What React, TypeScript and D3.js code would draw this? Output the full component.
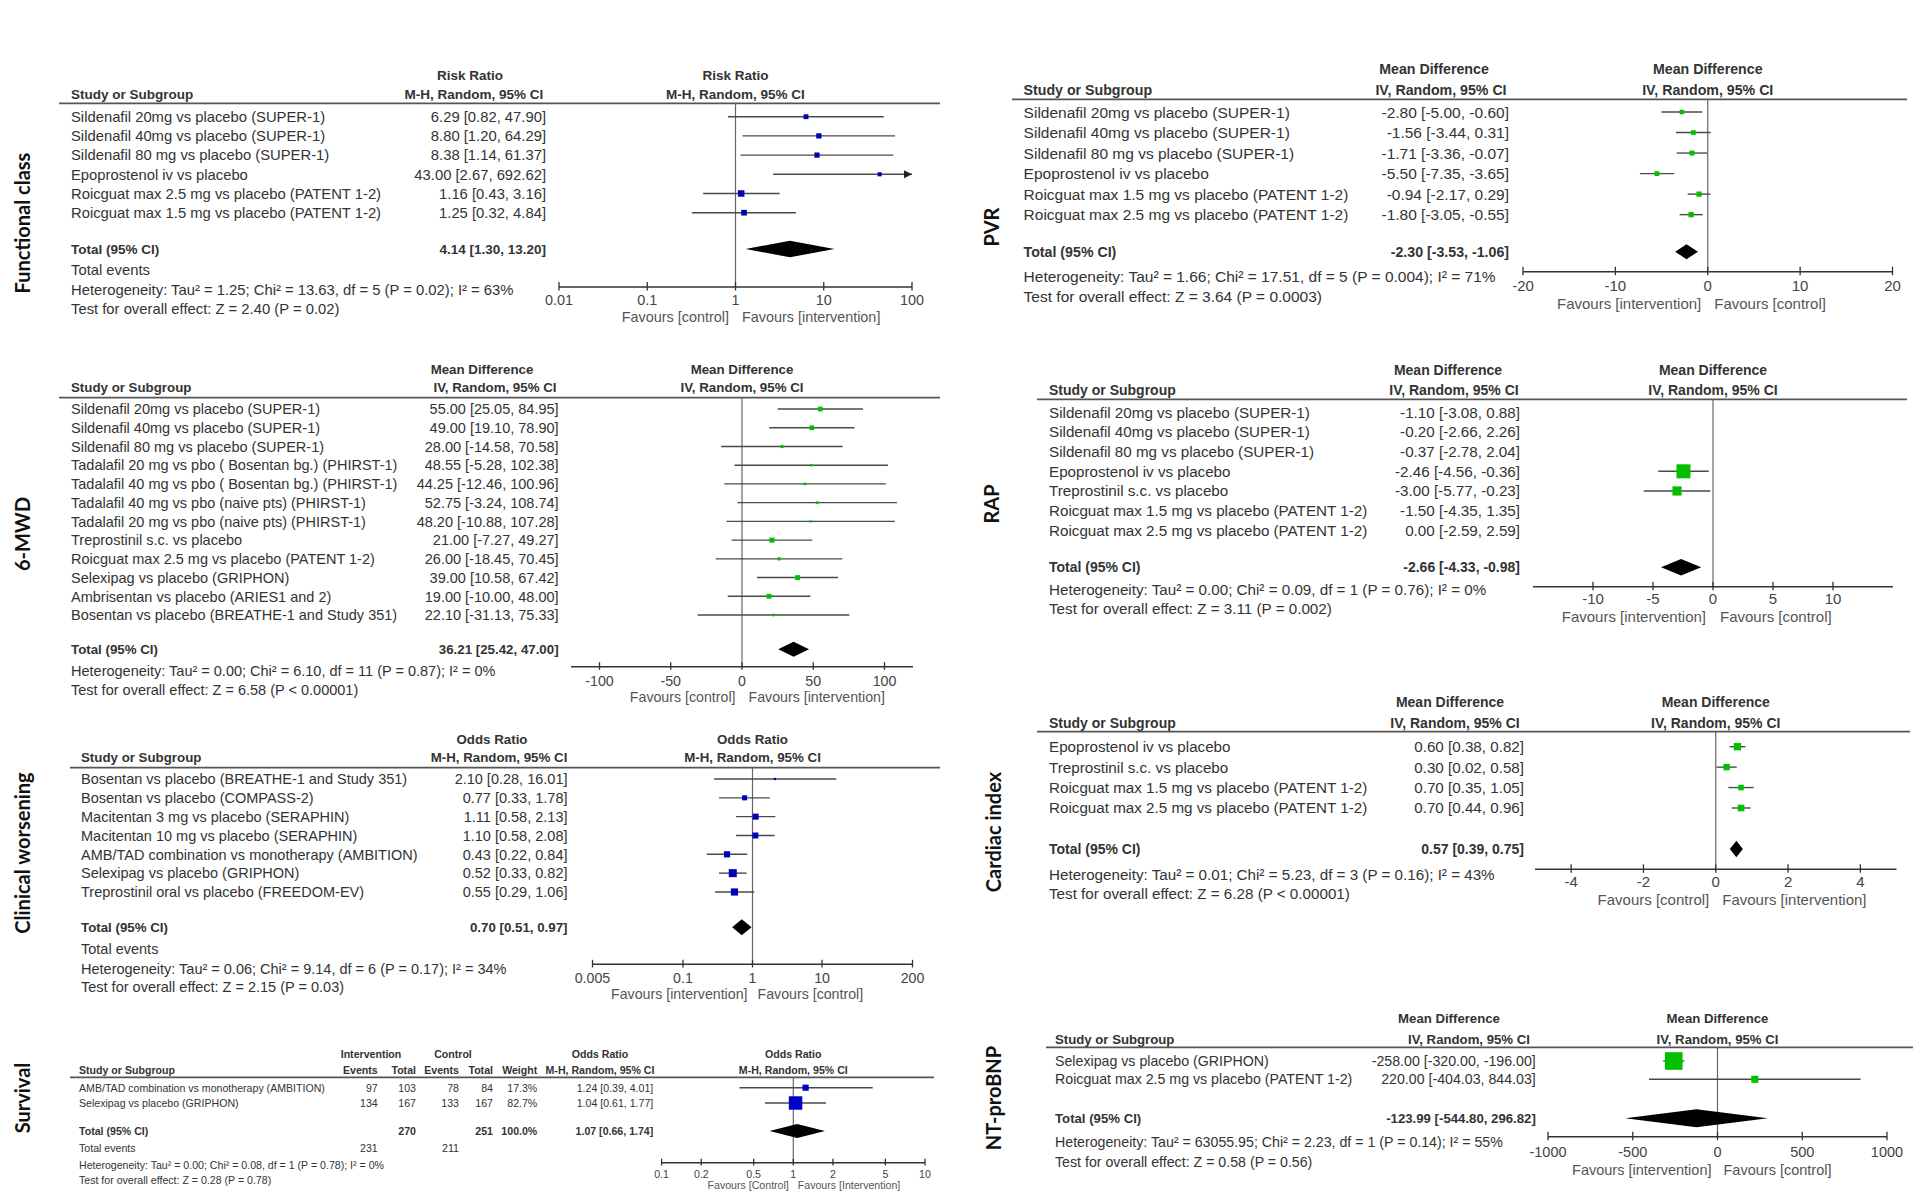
import * as d3 from 'd3';

const FONT = '"Liberation Sans", Arial, sans-serif';
const LABEL_FONT = 'Lato, "Open Sans", sans-serif';
const INK = '#333';
const SOFT = '#555';
const GREEN = '#00c000';
const NAVY = '#0000b4';

// ---- Functional class (risk ratio)
const fcStudies = [
  'Sildenafil 20mg vs placebo (SUPER-1)',
  'Sildenafil 40mg vs placebo (SUPER-1)',
  'Sildenafil 80 mg vs placebo (SUPER-1)',
  'Epoprostenol iv vs placebo',
  'Roicguat max 2.5 mg vs placebo (PATENT 1-2)',
  'Roicguat max 1.5 mg vs placebo (PATENT 1-2)',
];
const fcEst = [6.29, 8.8, 8.38, 43.0, 1.16, 1.25];
const fcLo = [0.82, 1.2, 1.14, 2.67, 0.43, 0.32];
const fcHi = [47.9, 64.29, 61.37, 692.62, 3.16, 4.84];
const fcWeights = [14, 16, 16, 10, 25, 19];
const fcTotal = [4.14, 1.3, 13.2];
const fcTicks = [0.01, 0.1, 1, 10, 100];
const fcTickLabels = ['0.01', '0.1', '1', '10', '100'];

// ---- 6-MWD (mean difference)
const mwdStudies = [
  'Sildenafil 20mg vs placebo (SUPER-1)',
  'Sildenafil 40mg vs placebo (SUPER-1)',
  'Sildenafil 80 mg vs placebo (SUPER-1)',
  'Tadalafil 20 mg vs pbo ( Bosentan bg.) (PHIRST-1)',
  'Tadalafil 40 mg vs pbo ( Bosentan bg.) (PHIRST-1)',
  'Tadalafil 40 mg vs pbo (naive pts) (PHIRST-1)',
  'Tadalafil 20 mg vs pbo (naive pts) (PHIRST-1)',
  'Treprostinil s.c. vs placebo',
  'Roicguat max 2.5 mg vs placebo (PATENT 1-2)',
  'Selexipag vs placebo (GRIPHON)',
  'Ambrisentan vs placebo (ARIES1 and 2)',
  'Bosentan vs placebo (BREATHE-1 and Study 351)',
];
const mwdEst = [55.0, 49.0, 28.0, 48.55, 44.25, 52.75, 48.2, 21.0, 26.0, 39.0, 19.0, 22.1];
const mwdLo = [25.05, 19.1, -14.58, -5.28, -12.46, -3.24, -10.88, -7.27, -18.45, 10.58, -10.0, -31.13];
const mwdHi = [84.95, 78.9, 70.58, 102.38, 100.96, 108.74, 107.28, 49.27, 70.45, 67.42, 48.0, 75.33];
const mwdWeights = [13, 13, 6, 4, 4, 4, 3, 15, 6, 14, 14, 4];
const mwdTotal = [36.21, 25.42, 47.0];
const mwdTicks = [-100, -50, 0, 50, 100];
const mwdTickLabels = ['-100', '-50', '0', '50', '100'];

// ---- Clinical worsening (odds ratio)
const cwStudies = [
  'Bosentan vs placebo (BREATHE-1 and Study 351)',
  'Bosentan vs placebo (COMPASS-2)',
  'Macitentan 3 mg vs placebo (SERAPHIN)',
  'Macitentan 10 mg vs placebo (SERAPHIN)',
  'AMB/TAD combination vs monotherapy (AMBITION)',
  'Selexipag vs placebo (GRIPHON)',
  'Treprostinil oral vs placebo (FREEDOM-EV)',
];
const cwEst = [2.1, 0.77, 1.11, 1.1, 0.43, 0.52, 0.55];
const cwLo = [0.28, 0.33, 0.58, 0.58, 0.22, 0.33, 0.29];
const cwHi = [16.01, 1.78, 2.13, 2.08, 0.84, 0.82, 1.06];
const cwWeights = [2, 10, 14, 14, 15, 25, 20];
const cwTotal = [0.7, 0.51, 0.97];
const cwTicks = [0.005, 0.1, 1, 10, 200];
const cwTickLabels = ['0.005', '0.1', '1', '10', '200'];

// ---- Survival (odds ratio)
const svStudies = ['AMB/TAD combination vs monotherapy (AMBITION)', 'Selexipag vs placebo (GRIPHON)'];
const svIntEvents = [97, 134];
const svIntTotal = [103, 167];
const svCtlEvents = [78, 133];
const svCtlTotal = [84, 167];
const svWeights = [17.3, 82.7];
const svEst = [1.24, 1.04];
const svLo = [0.39, 0.61];
const svHi = [4.01, 1.77];
const svTotal = [1.07, 0.66, 1.74];
const svTotals = ['270', '251', '100.0%'];
const svTotalEvents = ['231', '211'];
const svTicks = [0.1, 0.2, 0.5, 1, 2, 5, 10];
const svTickLabels = ['0.1', '0.2', '0.5', '1', '2', '5', '10'];

// ---- PVR (mean difference)
const pvrStudies = [
  'Sildenafil 20mg vs placebo (SUPER-1)',
  'Sildenafil 40mg vs placebo (SUPER-1)',
  'Sildenafil 80 mg vs placebo (SUPER-1)',
  'Epoprostenol iv vs placebo',
  'Roicguat max 1.5 mg vs placebo (PATENT 1-2)',
  'Roicguat max 2.5 mg vs placebo (PATENT 1-2)',
];
const pvrEst = [-2.8, -1.56, -1.71, -5.5, -0.94, -1.8];
const pvrLo = [-5.0, -3.44, -3.36, -7.35, -2.17, -3.05];
const pvrHi = [-0.6, 0.31, -0.07, -3.65, 0.29, -0.55];
const pvrWeights = [14, 15, 17, 16, 19, 19];
const pvrTotal = [-2.3, -3.53, -1.06];
const pvrTicks = [-20, -10, 0, 10, 20];
const pvrTickLabels = ['-20', '-10', '0', '10', '20'];

// ---- RAP (mean difference)
const rapStudies = [
  'Sildenafil 20mg vs placebo (SUPER-1)',
  'Sildenafil 40mg vs placebo (SUPER-1)',
  'Sildenafil 80 mg vs placebo (SUPER-1)',
  'Epoprostenol iv vs placebo',
  'Treprostinil s.c. vs placebo',
  'Roicguat max 1.5 mg vs placebo (PATENT 1-2)',
  'Roicguat max 2.5 mg vs placebo (PATENT 1-2)',
];
const rapEst = [-1.1, -0.2, -0.37, -2.46, -3.0, -1.5, 0.0];
const rapLo = [-3.08, -2.66, -2.78, -4.56, -5.77, -4.35, -2.59];
const rapHi = [0.88, 2.26, 2.04, -0.36, -0.23, 1.35, 2.59];
const rapWeights = [0, 0, 0, 70, 30, 0, 0];
const rapTotal = [-2.66, -4.33, -0.98];
const rapTicks = [-10, -5, 0, 5, 10];
const rapTickLabels = ['-10', '-5', '0', '5', '10'];

// ---- Cardiac index (mean difference)
const ciStudies = [
  'Epoprostenol iv vs placebo',
  'Treprostinil s.c. vs placebo',
  'Roicguat max 1.5 mg vs placebo (PATENT 1-2)',
  'Roicguat max 2.5 mg vs placebo (PATENT 1-2)',
];
const ciEst = [0.6, 0.3, 0.7, 0.7];
const ciLo = [0.38, 0.02, 0.35, 0.44];
const ciHi = [0.82, 0.58, 1.05, 0.96];
const ciWeights = [32, 24, 18, 26];
const ciTotal = [0.57, 0.39, 0.75];
const ciTicks = [-4, -2, 0, 2, 4];
const ciTickLabels = ['-4', '-2', '0', '2', '4'];

// ---- NT-proBNP (mean difference)
const ntStudies = ['Selexipag vs placebo (GRIPHON)', 'Roicguat max 2.5 mg vs placebo (PATENT 1-2)'];
const ntEst = [-258.0, 220.0];
const ntLo = [-320.0, -404.03];
const ntHi = [-196.0, 844.03];
const ntWeights = [86, 14];
const ntTotal = [-123.99, -544.8, 296.82];
const ntTicks = [-1000, -500, 0, 500, 1000];
const ntTickLabels = ['-1000', '-500', '0', '500', '1000'];

const fmt = (v: number) => v.toFixed(2);
const ci = (e: number, l: number, h: number) => `${fmt(e)} [${fmt(l)}, ${fmt(h)}]`;

function Txt({ x, y, fs, children, anchor = 'start', bold = false, fill = INK }: any) {
  return (
    <text
      x={x}
      y={y + fs * 0.36}
      fontSize={fs}
      textAnchor={anchor}
      fontWeight={bold ? 'bold' : 'normal'}
      fill={fill}
      fontFamily={FONT}
    >
      {children}
    </text>
  );
}

function Forest({ p }: { p: any }) {
  const scale: any = p.log
    ? d3.scaleLog().domain(p.domain).range(p.range)
    : d3.scaleLinear().domain(p.domain).range(p.range);
  const x0 = scale(p.log ? 1 : 0);
  const rowY = (i: number) => p.rowY0 + i * p.rowStep;
  const [dMin, dMax] = p.domain;
  const [tE, tL, tH] = p.total;
  const dy = p.diamondH;

  return (
    <g>
      <text
        transform={`translate(${p.labelX},${p.labelY}) rotate(-90)`}
        textAnchor="middle"
        dominantBaseline="central"
        fontFamily={LABEL_FONT}
        fontWeight="bold"
        fontSize={20}
        fill="#111"
      >
        {p.label}
      </text>

      {/* headers */}
      <Txt x={p.studyX} y={p.hdrY2} fs={p.bfs} bold>Study or Subgroup</Txt>
      <Txt x={p.hdr1X} y={p.hdrY1} fs={p.bfs} bold anchor="middle">{p.hdr1}</Txt>
      <Txt x={p.hdr2X} y={p.hdrY2} fs={p.bfs} bold anchor="middle">{p.hdr2}</Txt>
      <Txt x={x0} y={p.hdrY1} fs={p.bfs} bold anchor="middle">{p.hdr1}</Txt>
      <Txt x={x0} y={p.hdrY2} fs={p.bfs} bold anchor="middle">{p.hdr2}</Txt>
      {(p.groupHdrs || []).map((g: any) => (
        <Txt key={g.text} x={g.x} y={p.hdrY1} fs={p.bfs} bold anchor="middle">{g.text}</Txt>
      ))}
      {(p.cols || []).map((c: any, j: number) => (
        <Txt key={'ch' + j} x={c.right} y={p.hdrY2} fs={p.bfs} bold anchor="end">{c.hdr}</Txt>
      ))}
      <line x1={p.ruleX0} x2={p.ruleX1} y1={p.ruleY} y2={p.ruleY} stroke={SOFT} strokeWidth={1.8} />

      {/* null line */}
      <line x1={x0} x2={x0} y1={p.ruleY} y2={p.axisY} stroke="#666" strokeWidth={1.2} />

      {/* study rows */}
      {p.studies.map((s: string, i: number) => {
        const y = rowY(i);
        const w = p.weights[i];
        const side = p.boxK * Math.sqrt(w);
        const lo = Math.max(p.lo[i], dMin);
        const hi = Math.min(p.hi[i], dMax);
        return (
          <g key={s + i}>
            <Txt x={p.studyX} y={y} fs={p.fs}>{s}</Txt>
            {(p.cols || []).map((c: any, j: number) => (
              <Txt key={'c' + j} x={c.right} y={y} fs={p.fs} anchor="end">{c.values[i]}</Txt>
            ))}
            <Txt x={p.valRight} y={y} fs={p.fs} anchor="end">{ci(p.est[i], p.lo[i], p.hi[i])}</Txt>
            {w > 0 && (
              <g>
                <line x1={scale(lo)} x2={scale(hi)} y1={y} y2={y} stroke="#4a4a4a" strokeWidth={1.4} />
                {p.hi[i] > dMax && (
                  <polygon
                    points={`${scale(dMax)},${y} ${scale(dMax) - 8},${y - 4} ${scale(dMax) - 8},${y + 4}`}
                    fill="#222"
                  />
                )}
                <rect
                  x={scale(p.est[i]) - side / 2}
                  y={y - side / 2}
                  width={side}
                  height={side}
                  fill={p.color}
                />
              </g>
            )}
          </g>
        );
      })}

      {/* total */}
      <Txt x={p.studyX} y={p.totalY} fs={p.bfs} bold>Total (95% CI)</Txt>
      {(p.cols || []).map((c: any, j: number) =>
        c.total ? (
          <Txt key={'t' + j} x={c.right} y={p.totalY} fs={p.bfs} bold anchor="end">{c.total}</Txt>
        ) : null
      )}
      <Txt x={p.valRight} y={p.totalY} fs={p.bfs} bold anchor="end">{ci(tE, tL, tH)}</Txt>
      <polygon
        points={`${scale(tL)},${p.totalY} ${scale(tE)},${p.totalY - dy} ${scale(tH)},${p.totalY} ${scale(tE)},${p.totalY + dy}`}
        fill="#000"
      />
      {p.totalEventsY && (
        <g>
          <Txt x={p.studyX} y={p.totalEventsY} fs={p.fs}>Total events</Txt>
          {(p.cols || []).map((c: any, j: number) =>
            c.events ? (
              <Txt key={'e' + j} x={c.right} y={p.totalEventsY} fs={p.fs} anchor="end">{c.events}</Txt>
            ) : null
          )}
        </g>
      )}
      <Txt x={p.studyX} y={p.hetY} fs={p.fs}>{p.het}</Txt>
      <Txt x={p.studyX} y={p.testY} fs={p.fs}>{p.test}</Txt>

      {/* axis */}
      <line x1={p.range[0]} x2={p.range[1]} y1={p.axisY} y2={p.axisY} stroke="#333" strokeWidth={1.5} />
      {p.ticks.map((t: number, k: number) => (
        <g key={'tk' + k}>
          <line x1={scale(t)} x2={scale(t)} y1={p.axisY - p.tickLen} y2={p.axisY + p.tickLen * 0.7} stroke="#333" strokeWidth={1.3} />
          <Txt x={scale(t)} y={p.tickLabelY} fs={p.tfs} anchor="middle" fill="#444">{p.tickLabels[k]}</Txt>
        </g>
      ))}
      <Txt x={x0 - p.favGap} y={p.favY} fs={p.tfs} anchor="end" fill={SOFT}>{p.favLeft}</Txt>
      <Txt x={x0 + p.favGap} y={p.favY} fs={p.tfs} anchor="start" fill={SOFT}>{p.favRight}</Txt>
    </g>
  );
}

const MD = 'Mean Difference';
const IV = 'IV, Random, 95% CI';
const OR = 'Odds Ratio';
const MH = 'M-H, Random, 95% CI';
const FC = 'Favours [control]';
const FI = 'Favours [intervention]';

const panels: any[] = [
  {
    label: 'Functional class', labelX: 22, labelY: 223,
    fs: 14.8, bfs: 13.5, tfs: 14.4,
    studyX: 71, valRight: 546, hdr1: 'Risk Ratio', hdr2: MH, hdr1X: 470, hdr2X: 474, hdrY1: 75, hdrY2: 94,
    ruleY: 103.3, ruleX0: 59, ruleX1: 940, rowY0: 116.7, rowStep: 19.2,
    studies: fcStudies, est: fcEst, lo: fcLo, hi: fcHi, weights: fcWeights, total: fcTotal,
    totalY: 249, totalEventsY: 270, hetY: 290, testY: 309,
    het: 'Heterogeneity: Tau² = 1.25; Chi² = 13.63, df = 5 (P = 0.02); I² = 63%',
    test: 'Test for overall effect: Z = 2.40 (P = 0.02)',
    log: true, domain: [0.01, 100], range: [559, 912], ticks: fcTicks, tickLabels: fcTickLabels,
    axisY: 287, tickLen: 5, tickLabelY: 300, favY: 317, favGap: 6.5, favLeft: FC, favRight: FI,
    color: NAVY, boxK: 1.3, diamondH: 8.3,
  },
  {
    label: '6-MWD', labelX: 22, labelY: 534,
    fs: 14.5, bfs: 13.3, tfs: 14.2,
    studyX: 71, valRight: 558.6, hdr1: MD, hdr2: IV, hdr1X: 482, hdr2X: 495, hdrY1: 369, hdrY2: 387.7,
    ruleY: 397.7, ruleX0: 59, ruleX1: 940, rowY0: 409, rowStep: 18.73,
    studies: mwdStudies, est: mwdEst, lo: mwdLo, hi: mwdHi, weights: mwdWeights, total: mwdTotal,
    totalY: 649.3, hetY: 671, testY: 689.3,
    het: 'Heterogeneity: Tau² = 0.00; Chi² = 6.10, df = 11 (P = 0.87); I² = 0%',
    test: 'Test for overall effect: Z = 6.58 (P < 0.00001)',
    log: false, domain: [-120, 120], range: [571, 913], ticks: mwdTicks, tickLabels: mwdTickLabels,
    axisY: 666.7, tickLen: 4.5, tickLabelY: 681, favY: 697, favGap: 6.5, favLeft: FC, favRight: FI,
    color: GREEN, boxK: 1.3, diamondH: 7.5,
  },
  {
    label: 'Clinical worsening', labelX: 22, labelY: 853,
    fs: 14.5, bfs: 13.3, tfs: 14.2,
    studyX: 81, valRight: 567.5, hdr1: OR, hdr2: MH, hdr1X: 492, hdr2X: 499, hdrY1: 739, hdrY2: 757.7,
    ruleY: 767.7, ruleX0: 70, ruleX1: 940, rowY0: 779, rowStep: 18.83,
    studies: cwStudies, est: cwEst, lo: cwLo, hi: cwHi, weights: cwWeights, total: cwTotal,
    totalY: 927.3, totalEventsY: 948.7, hetY: 968.3, testY: 986.7,
    het: 'Heterogeneity: Tau² = 0.06; Chi² = 9.14, df = 6 (P = 0.17); I² = 34%',
    test: 'Test for overall effect: Z = 2.15 (P = 0.03)',
    log: true, domain: [0.005, 200], range: [592.5, 912.5], ticks: cwTicks, tickLabels: cwTickLabels,
    axisY: 964.3, tickLen: 4.5, tickLabelY: 977.5, favY: 994, favGap: 5, favLeft: FI, favRight: FC,
    color: NAVY, boxK: 1.6, diamondH: 8,
  },
  {
    label: 'Survival', labelX: 22, labelY: 1098,
    fs: 10.6, bfs: 10.6, tfs: 10.6,
    studyX: 79, valRight: 653.3, hdr1: OR, hdr2: MH, hdr1X: 600, hdr2X: 600, hdrY1: 1054.3, hdrY2: 1070,
    groupHdrs: [{ text: 'Intervention', x: 371 }, { text: 'Control', x: 453 }],
    cols: [
      { right: 377.7, hdr: 'Events', values: svIntEvents.map(String), events: svTotalEvents[0] },
      { right: 416, hdr: 'Total', values: svIntTotal.map(String), total: svTotals[0] },
      { right: 459, hdr: 'Events', values: svCtlEvents.map(String), events: svTotalEvents[1] },
      { right: 493, hdr: 'Total', values: svCtlTotal.map(String), total: svTotals[1] },
      { right: 537.3, hdr: 'Weight', values: svWeights.map((w) => w.toFixed(1) + '%'), total: svTotals[2] },
    ],
    ruleY: 1077.3, ruleX0: 70, ruleX1: 934, rowY0: 1087.7, rowStep: 15.3,
    studies: svStudies, est: svEst, lo: svLo, hi: svHi, weights: svWeights, total: svTotal,
    totalY: 1131, totalEventsY: 1148.3, hetY: 1165, testY: 1180,
    het: 'Heterogeneity: Tau² = 0.00; Chi² = 0.08, df = 1 (P = 0.78); I² = 0%',
    test: 'Test for overall effect: Z = 0.28 (P = 0.78)',
    log: true, domain: [0.1, 10], range: [661.6, 925], ticks: svTicks, tickLabels: svTickLabels,
    axisY: 1162.7, tickLen: 4, tickLabelY: 1174, favY: 1185.5, favGap: 4.5,
    favLeft: 'Favours [Control]', favRight: 'Favours [Intervention]',
    color: '#0000c8', boxK: 1.48, diamondH: 7,
  },
  {
    label: 'PVR', labelX: 991, labelY: 227,
    fs: 15.5, bfs: 14.2, tfs: 15,
    studyX: 1023.6, valRight: 1509, hdr1: MD, hdr2: IV, hdr1X: 1434, hdr2X: 1441, hdrY1: 69, hdrY2: 90,
    ruleY: 99.3, ruleX0: 1012, ruleX1: 1907, rowY0: 112, rowStep: 20.53,
    studies: pvrStudies, est: pvrEst, lo: pvrLo, hi: pvrHi, weights: pvrWeights, total: pvrTotal,
    totalY: 251.7, hetY: 276.7, testY: 296.7,
    het: 'Heterogeneity: Tau² = 1.66; Chi² = 17.51, df = 5 (P = 0.004); I² = 71%',
    test: 'Test for overall effect: Z = 3.64 (P = 0.0003)',
    log: false, domain: [-20, 20], range: [1523, 1892.5], ticks: pvrTicks, tickLabels: pvrTickLabels,
    axisY: 271.7, tickLen: 5, tickLabelY: 285.5, favY: 304, favGap: 6.5, favLeft: FI, favRight: FC,
    color: GREEN, boxK: 1.2, diamondH: 7.5,
  },
  {
    label: 'RAP', labelX: 991, labelY: 504,
    fs: 15.2, bfs: 14, tfs: 15,
    studyX: 1049, valRight: 1520, hdr1: MD, hdr2: IV, hdr1X: 1448, hdr2X: 1454, hdrY1: 370, hdrY2: 390,
    ruleY: 399.3, ruleX0: 1037, ruleX1: 1907, rowY0: 412.3, rowStep: 19.67,
    studies: rapStudies, est: rapEst, lo: rapLo, hi: rapHi, weights: rapWeights, total: rapTotal,
    totalY: 567.3, hetY: 589.3, testY: 608.3,
    het: 'Heterogeneity: Tau² = 0.00; Chi² = 0.09, df = 1 (P = 0.76); I² = 0%',
    test: 'Test for overall effect: Z = 3.11 (P = 0.002)',
    log: false, domain: [-15, 15], range: [1533, 1893], ticks: rapTicks, tickLabels: rapTickLabels,
    axisY: 586.7, tickLen: 5, tickLabelY: 599, favY: 617, favGap: 7, favLeft: FI, favRight: FC,
    color: GREEN, boxK: 1.67, diamondH: 8.3,
  },
  {
    label: 'Cardiac index', labelX: 993, labelY: 832,
    fs: 15.2, bfs: 14, tfs: 15,
    studyX: 1049, valRight: 1524, hdr1: MD, hdr2: IV, hdr1X: 1450, hdr2X: 1455, hdrY1: 701.7, hdrY2: 722.7,
    ruleY: 731.7, ruleX0: 1037, ruleX1: 1910, rowY0: 746.7, rowStep: 20.43,
    studies: ciStudies, est: ciEst, lo: ciLo, hi: ciHi, weights: ciWeights, total: ciTotal,
    totalY: 849, hetY: 874.3, testY: 893.3,
    het: 'Heterogeneity: Tau² = 0.01; Chi² = 5.23, df = 3 (P = 0.16); I² = 43%',
    test: 'Test for overall effect: Z = 6.28 (P < 0.00001)',
    log: false, domain: [-5, 5], range: [1535, 1896.5], ticks: ciTicks, tickLabels: ciTickLabels,
    axisY: 869.3, tickLen: 5, tickLabelY: 882, favY: 900, favGap: 6.5, favLeft: FC, favRight: FI,
    color: GREEN, boxK: 1.3, diamondH: 8.3,
  },
  {
    label: 'NT-proBNP', labelX: 993, labelY: 1098,
    fs: 14.2, bfs: 13.2, tfs: 14.5,
    studyX: 1055, valRight: 1535.8, hdr1: MD, hdr2: IV, hdr1X: 1449, hdr2X: 1469, hdrY1: 1018.3, hdrY2: 1039,
    ruleY: 1047.3, ruleX0: 1046, ruleX1: 1913, rowY0: 1061, rowStep: 18.3,
    studies: ntStudies, est: ntEst, lo: ntLo, hi: ntHi, weights: ntWeights, total: ntTotal,
    totalY: 1118.3, hetY: 1141.7, testY: 1161.7,
    het: 'Heterogeneity: Tau² = 63055.95; Chi² = 2.23, df = 1 (P = 0.14); I² = 55%',
    test: 'Test for overall effect: Z = 0.58 (P = 0.56)',
    log: false, domain: [-1000, 1000], range: [1548, 1887], ticks: ntTicks, tickLabels: ntTickLabels,
    axisY: 1136.7, tickLen: 5, tickLabelY: 1152, favY: 1170, favGap: 6, favLeft: FI, favRight: FC,
    color: GREEN, boxK: 1.9, diamondH: 9,
  },
];

export default function App() {
  return (
    <svg
      width={1915}
      height={1203}
      style={{ position: 'absolute', left: 0, top: 0, background: '#fff' }}
    >
      <rect width={1915} height={1203} fill="#fff" />
      {panels.map((p) => (
        <Forest key={p.label} p={p} />
      ))}
    </svg>
  );
}
